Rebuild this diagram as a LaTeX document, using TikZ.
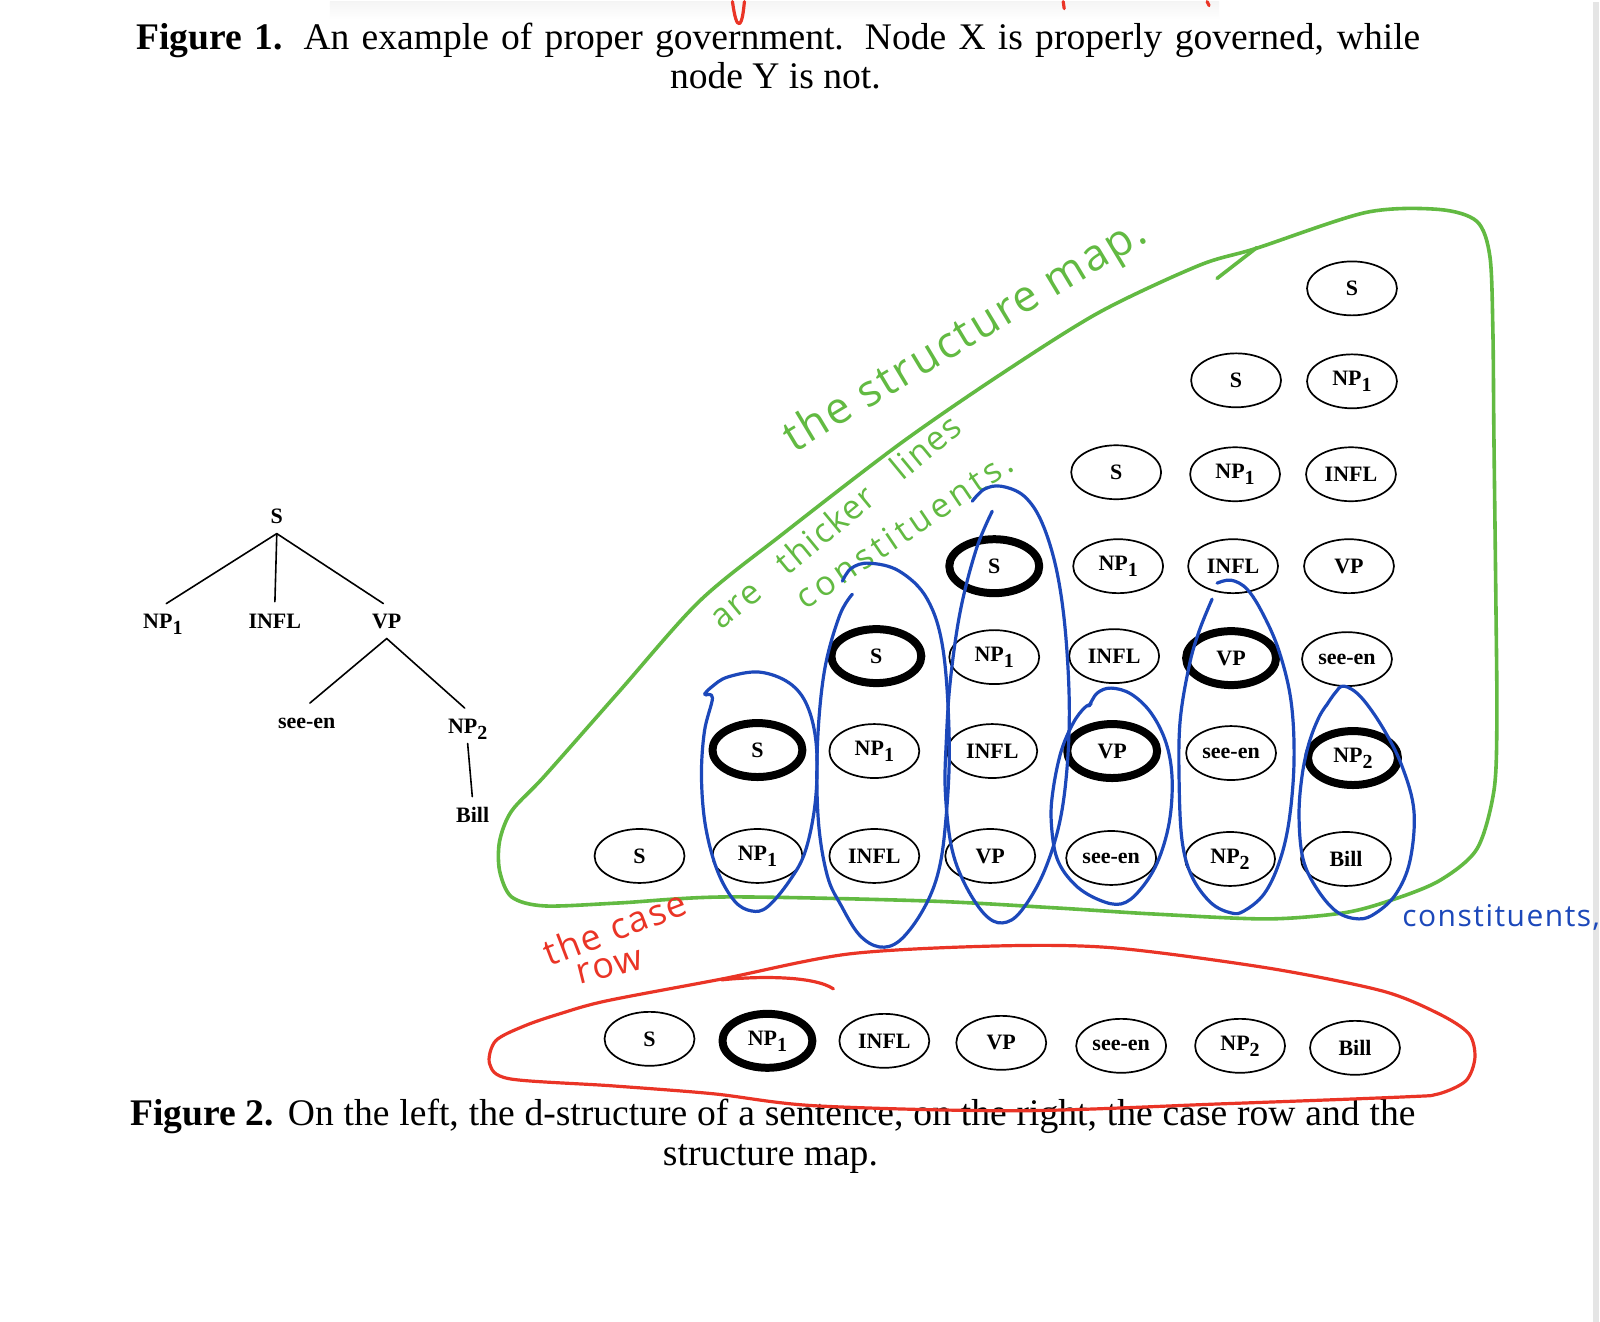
\documentclass[tikz,border=0pt]{standalone}
\usepackage{fontspec}
\setmainfont{Liberation Serif}
\newfontfamily\handfont[LetterSpace=5]{Open Sans}
\usetikzlibrary{shapes.geometric}
\definecolor{mapgreen}{RGB}{98,186,66}
\definecolor{rowred}{RGB}{234,52,38}
\definecolor{constblue}{RGB}{28,72,186}
\newcommand{\lowsub}[1]{\raisebox{-0.6ex}{\fontsize{10}{10}\selectfont #1}}
\begin{document}
\begin{tikzpicture}
% page laid out in pixels of the scanned page
\def\pxsz{0.5pt}
\providecommand{\wordLineWidth}{0.85pt}
\providecommand{\headLineWidth}{4pt}
\providecommand{\inkLineWidth}{1.6pt}
\providecommand{\capSize}{\fontsize{18.8}{22}\selectfont}
\begin{scope}[x=\pxsz, y=-\pxsz, line cap=round, line join=round,
  word/.style={ellipse, draw, line width=\wordLineWidth, minimum width=45pt, minimum height=27pt, inner sep=0pt, font=\fontsize{11}{13}\selectfont\bfseries},
  headword/.style={word, line width=\headLineWidth},
  treeword/.style={anchor=base, inner sep=3pt, text height=8pt, text depth=2pt, font=\fontsize{11}{13}\selectfont\bfseries},
  treeline/.style={line width=0.8pt, shorten >=2pt},
  mapline/.style={draw=mapgreen, line width=1.8pt},
  rowline/.style={draw=rowred, line width=\inkLineWidth},
  constline/.style={draw=constblue, line width=\inkLineWidth},
  captext/.style={inner sep=0pt, font=\capSize},
  handnote/.style={anchor=base west, inner sep=0pt}]
  % Background
  \fill[white] (0,0) rectangle (1600,1321);
  \shade[top color=black!4, bottom color=white] (330,0) rectangle (1220,18);
  \fill[black!10] (1594,0) rectangle (1600,1321);
  % Figure 1 caption
  \node[captext, anchor=base west] (cap1a) at (136,48) {\makebox[642.5pt][s]{\textbf{Figure 1.} An example of proper government. Node X is properly governed, while}};
  \node[captext, anchor=base] (cap1b) at (776,87) {node Y is not.};
  % d-structure tree
  \node[treeword] (t-s) at (277,522) {S};
  \node[treeword] (t-np1) at (163,627) {NP\lowsub{1}};
  \node[treeword] (t-infl) at (275,627) {INFL};
  \node[treeword] (t-vp) at (387,627) {VP};
  \node[treeword] (t-seeen) at (307,727) {see-en};
  \node[treeword] (t-np2) at (468,732) {NP\lowsub{2}};
  \node[treeword] (t-bill) at (473,822) {Bill};
  \draw[treeline] (t-s.south) -- (t-np1.north);
  \draw[treeline] (t-s.south) -- (t-infl.north);
  \draw[treeline] (t-s.south) -- (t-vp.north);
  \draw[treeline] (t-vp.south) -- (t-seeen.north);
  \draw[treeline] (t-vp.south) -- (t-np2.north);
  \draw[treeline] (t-np2.south) -- (t-bill.north);
  % Structure map, bottom row first
  \node[word] (m-1-1) at (640,855) {S};
  \node[word] (m-2-1) at (758,855) {NP\lowsub{1}};
  \node[word] (m-3-1) at (875,855) {INFL};
  \node[word] (m-4-1) at (991,855) {VP};
  \node[word] (m-5-1) at (1112,857) {see-en};
  \node[word] (m-6-1) at (1231,858) {NP\lowsub{2}};
  \node[word] (m-7-1) at (1347,858) {Bill};
  \node[headword] (m-2-2) at (758,749) {S};
  \node[word] (m-3-2) at (875,750) {NP\lowsub{1}};
  \node[word] (m-4-2) at (993,750) {INFL};
  \node[headword] (m-5-2) at (1113,750) {VP};
  \node[word] (m-6-2) at (1232,752) {see-en};
  \node[headword] (m-7-2) at (1354,757) {NP\lowsub{2}};
  \node[headword] (m-3-3) at (877,655) {S};
  \node[word] (m-4-3) at (995,656) {NP\lowsub{1}};
  \node[word] (m-5-3) at (1115,655) {INFL};
  \node[headword] (m-6-3) at (1232,657) {VP};
  \node[word] (m-7-3) at (1348,658) {see-en};
  \node[headword] (m-4-4) at (995,565) {S};
  \node[word] (m-5-4) at (1119,565) {NP\lowsub{1}};
  \node[word] (m-6-4) at (1234,565) {INFL};
  \node[word] (m-7-4) at (1350,565) {VP};
  \node[word] (m-5-5) at (1117,471) {S};
  \node[word] (m-6-5) at (1236,473) {NP\lowsub{1}};
  \node[word] (m-7-5) at (1352,473) {INFL};
  \node[word] (m-6-6) at (1237,379) {S};
  \node[word] (m-7-6) at (1353,380) {NP\lowsub{1}};
  \node[word] (m-7-7) at (1353,287) {S};
  % Case row
  \node[word] (c-1) at (650,1038) {S};
  \node[headword] (c-2) at (768,1040) {NP\lowsub{1}};
  \node[word] (c-3) at (885,1040) {INFL};
  \node[word] (c-4) at (1002,1042) {VP};
  \node[word] (c-5) at (1122,1045) {see-en};
  \node[word] (c-6) at (1241,1045) {NP\lowsub{2}};
  \node[word] (c-7) at (1356,1047) {Bill};
  % Figure 2 caption
  \node[captext, anchor=base west] (cap2a) at (130,1125) {\makebox[643pt][s]{\textbf{Figure 2.} On the left, the d-structure of a sentence, on the right, the case row and the}};
  \node[captext, anchor=base] (cap2b) at (771,1165) {structure map.};
  % Green ink: the structure map
  \draw[mapline] plot[smooth cycle, tension=0.5] coordinates {(545,775) (620,690) (700,600) (783,533) (900,443) (1000,374) (1100,311) (1200,264) (1257,247) (1367,211) (1440,208) (1478,220) (1491,255) (1494,330) (1495,433) (1497,600) (1498,720) (1495,790) (1478,848) (1440,880) (1390,900) (1344,912) (1268,918) (1153,913) (1057,907) (927,900) (727,896) (620,902) (545,905) (512,896) (500,870) (500,840) (512,810)};
  \draw[mapline] (1218,277) -- (1258,246);
  \node[handnote, rotate=31, text=mapgreen, font=\handfont\fontsize{22}{22}\selectfont] (note-map) at (795,452) {the structure map.};
  \node[handnote, rotate=39.5, text=mapgreen, font=\handfont\fontsize{17}{17}\selectfont] (note-thick) at (722,630) {are\hspace{0.6em} thicker\hspace{0.6em} lines};
  \node[handnote, rotate=34, text=mapgreen, font=\handfont\fontsize{17}{17}\selectfont\addfontfeature{LetterSpace=12}] (note-const) at (806,610) {constituents.};
  % Red ink: the case row
  \draw[rowline] plot[smooth cycle, tension=0.5] coordinates {(560,1013) (607,1000) (723,978) (850,953) (1000,945) (1115,947) (1268,967) (1383,990) (1440,1013) (1470,1033) (1476,1057) (1467,1080) (1440,1093) (1408,1096) (1224,1103) (1020,1110) (816,1105) (714,1093) (612,1085) (510,1078) (490,1063) (496,1040) (525,1025)};
  \draw[rowline] (722,979) .. controls (760,975) and (815,975) .. (834,988);
  \node[handnote, rotate=21, text=rowred, font=\handfont\fontsize{18}{18}\selectfont] (note-case) at (550,966) {the case};
  \node[handnote, rotate=14, text=rowred, font=\handfont\fontsize{18}{18}\selectfont] (note-row) at (580,984) {row};
  \draw[rowline] (733,0) .. controls (735,14) and (737,23) .. (740,22) .. controls (743,20) and (744,9) .. (745,0);
  \draw[rowline] (1064,0) -- (1065,7);
  \draw[rowline] (1208,0) -- (1210,4);
  % Blue ink: constituents
  \draw[constline] plot[smooth, tension=0.6] coordinates {(705,693) (712,686) (728,676) (760,671) (790,682) (808,705) (817,745) (816,800) (806,850) (790,880) (768,906) (752,910) (735,900) (718,870) (706,825) (702,775) (705,730) (713,697) (706,694)};
  \draw[constline] plot[smooth, tension=0.6] coordinates {(843,580) (852,567) (870,562) (900,570) (928,598) (944,650) (950,745) (946,825) (938,875) (922,912) (900,940) (880,946) (860,934) (842,905) (828,875) (819,820) (818,745) (825,670) (840,615) (853,593)};
  \draw[constline] plot[smooth, tension=0.6] coordinates {(973,500) (985,488) (1002,485) (1025,495) (1043,522) (1058,572) (1067,640) (1070,725) (1063,808) (1046,868) (1022,910) (1003,922) (985,913) (965,882) (952,845) (946,790) (947,740) (951,680) (961,610) (977,548) (993,510)};
  \draw[constline] plot[smooth, tension=0.6] coordinates {(1090,705) (1098,692) (1112,687) (1132,693) (1152,712) (1167,742) (1173,778) (1170,822) (1158,862) (1140,890) (1122,903) (1100,899) (1076,884) (1058,858) (1052,820) (1054,788) (1062,750) (1074,722) (1085,707) (1092,703)};
  \draw[constline] plot[smooth, tension=0.6] coordinates {(1218,582) (1232,579) (1248,588) (1264,613) (1280,650) (1292,700) (1295,760) (1290,820) (1280,862) (1265,893) (1245,910) (1232,912) (1212,902) (1193,876) (1183,840) (1180,780) (1181,720) (1190,665) (1200,630) (1213,598)};
  \draw[constline] plot[smooth, tension=0.6] coordinates {(1327,705) (1336,692) (1345,685) (1362,696) (1384,727) (1403,765) (1415,810) (1411,860) (1397,893) (1377,912) (1360,918) (1338,911) (1318,888) (1304,858) (1300,815) (1303,775) (1310,742) (1320,716) (1329,702)};
  \node[handnote, text=constblue, font=\handfont\fontsize{15}{15}\selectfont] (note-blue) at (1403,926) {constituents,};
\end{scope}
\end{tikzpicture}
\end{document}
